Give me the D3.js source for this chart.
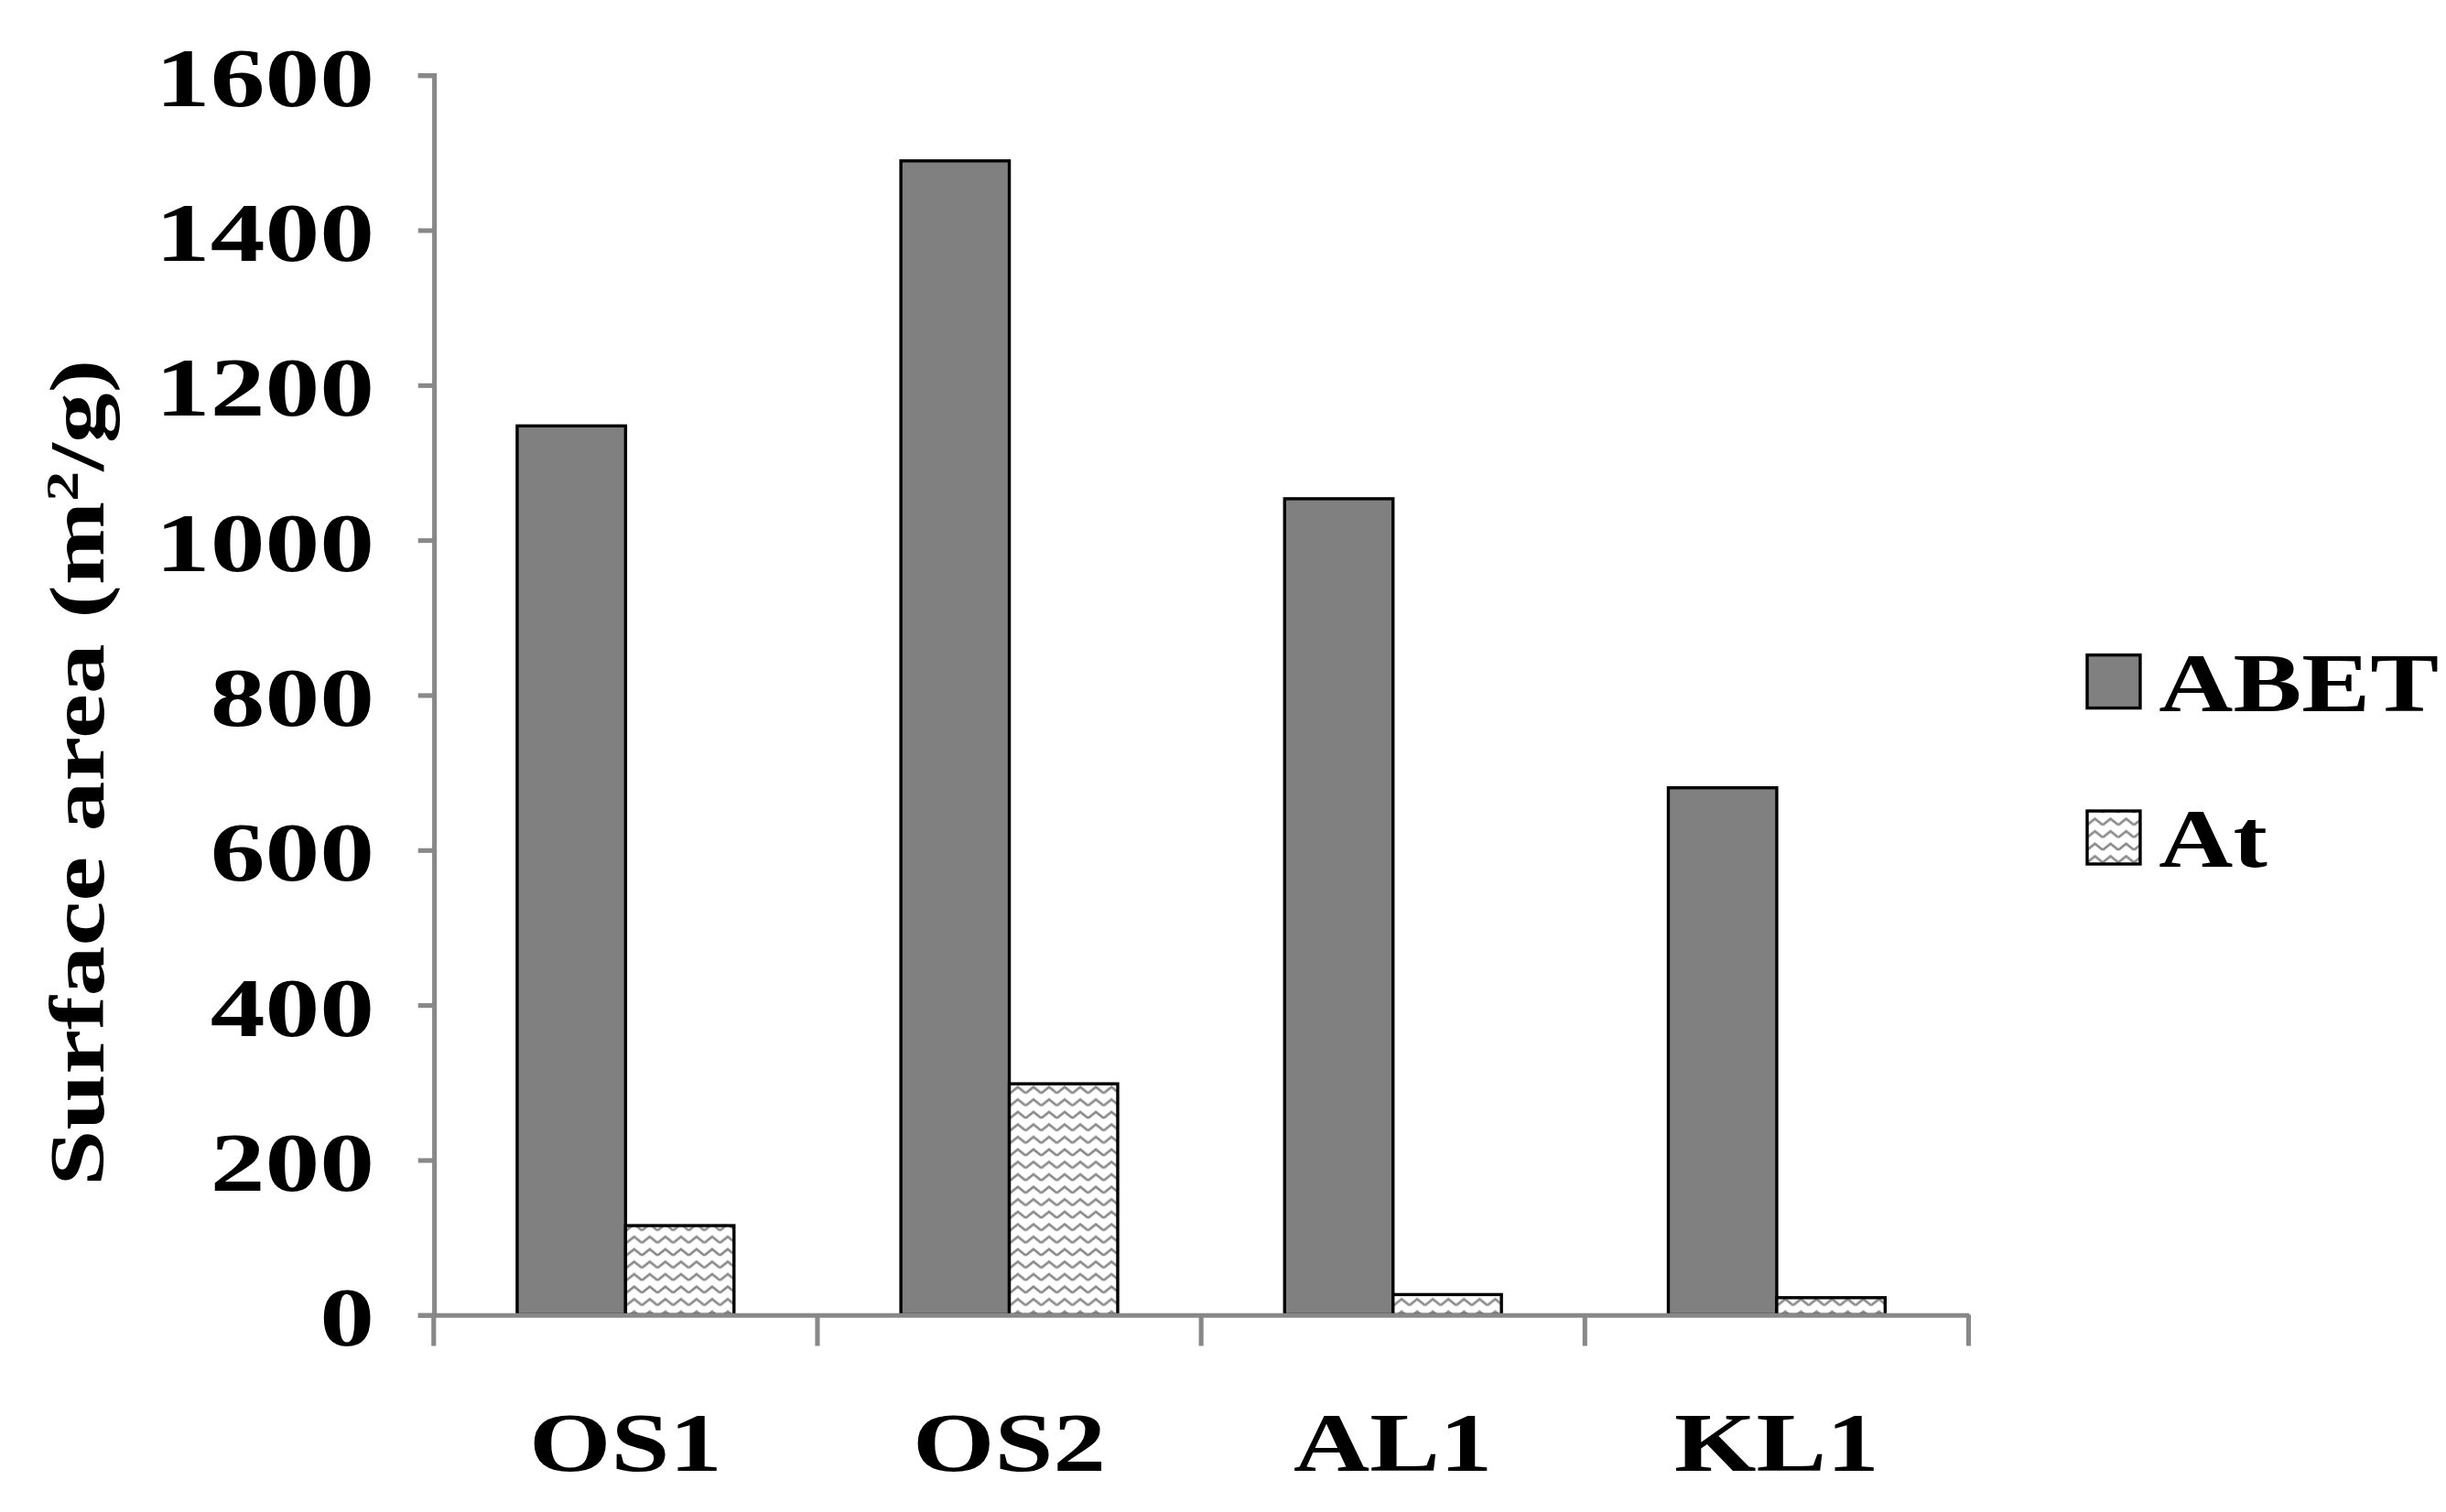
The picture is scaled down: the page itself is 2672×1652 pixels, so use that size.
<!DOCTYPE html>
<html lang="en">
<head>
  <meta charset="UTF-8" />
  <title>Surface area</title>
  <script src="https://cdn.jsdelivr.net/npm/d3@7"></script>
  <style>
    body { margin: 0; background: white; }
    svg { display: block; }
    text { font-family: "Liberation Serif", "Times New Roman", serif; font-weight: bold; fill: #000; }
  </style>
</head>
<body>
  <div id="chart"></div>
  <script>
    const categories = ["OS1", "OS2", "AL1", "KL1"];
    const seriesNames = ["ABET", "At"];
    const abet = [1147, 1489, 1053, 680];
    const at = [115, 298, 26, 22];
    const yTicks = [0, 200, 400, 600, 800, 1000, 1200, 1400, 1600];

    const W = 1568, H = 969.5;
    const svg = d3.select("#chart").append("svg")
      .attr("width", 2672).attr("height", 1652)
      .attr("viewBox", `0 0 ${W} ${H}`);

    // widen text like the stretched original
    function stretch(sel, k) {
      sel.each(function () {
        const len = this.getComputedTextLength();
        d3.select(this).attr("textLength", len * k).attr("lengthAdjust", "spacingAndGlyphs");
      });
    }

    const defs = svg.append("defs");
    const pat = defs.append("pattern").attr("id", "zig")
      .attr("patternUnits", "userSpaceOnUse").attr("width", 10).attr("height", 8);
    pat.append("rect").attr("width", 10).attr("height", 8).attr("fill", "white");
    pat.append("path").attr("d", "M0,5 L5,1 L10,5")
      .attr("fill", "none").attr("stroke", "#8a8a8a").attr("stroke-width", 1.6);

    const x0 = 278, x1 = 1262, yBase = 843, yTop = 48;
    const x = d3.scaleBand().domain(categories).range([x0, x1]).paddingInner(0).paddingOuter(0);
    const inner = 139 / 246;
    const y = d3.scaleLinear().domain([0, 1600]).range([yBase, yTop]);
    const xs = d3.scaleBand().domain(seriesNames).range([0, x.bandwidth() * inner]);
    const offset = (x.bandwidth() - x.bandwidth() * inner) / 2;

    const data = categories.map((c, i) => ({ c, vals: [abet[i], at[i]] }));
    const fills = ["#808080", "url(#zig)"];

    const groups = svg.append("g").selectAll("g").data(data).join("g")
      .attr("transform", d => `translate(${x(d.c) + offset},0)`);
    groups.selectAll("rect").data(d => d.vals.map((v, k) => ({ v, k })))
      .join("rect")
      .attr("x", d => xs(seriesNames[d.k]))
      .attr("width", xs.bandwidth())
      .attr("y", d => y(d.v))
      .attr("height", d => yBase - y(d.v))
      .attr("fill", d => fills[d.k])
      .attr("stroke", "#000").attr("stroke-width", 2);

    // y axis
    const yAxis = svg.append("g").attr("transform", `translate(${x0},0)`)
      .call(d3.axisLeft(y).tickValues(yTicks).tickFormat(d3.format("d")).tickSize(10).tickPadding(28));
    yAxis.select(".domain").attr("stroke", "#888").attr("stroke-width", 3);
    yAxis.selectAll(".tick line").attr("stroke", "#888").attr("stroke-width", 3);
    yAxis.selectAll(".tick text").style("font-size", "54px").attr("dy", "0.36em").call(stretch, 1.3);

    // x axis
    const xAxis = svg.append("g").attr("transform", `translate(0,${yBase})`)
      .call(d3.axisBottom(x).tickSize(0).tickPadding(62));
    xAxis.select(".domain").attr("stroke", "#888").attr("stroke-width", 3);
    xAxis.selectAll(".tick text").style("font-size", "54px").call(stretch, 1.25);
    xAxis.selectAll(".bound").data(d3.range(categories.length + 1)).join("line")
      .attr("x1", i => x0 + i * x.bandwidth()).attr("x2", i => x0 + i * x.bandwidth())
      .attr("y1", 0).attr("y2", 20).attr("stroke", "#888").attr("stroke-width", 3);

    // y title
    const title = svg.append("text")
      .attr("transform", `translate(66,${(yBase + yTop) / 2 + 50}) rotate(-90)`)
      .attr("text-anchor", "middle").style("font-size", "50px")
      .html('Surface area (m<tspan dy="-16" style="font-size:30px">2</tspan><tspan dy="16">/g)</tspan>');
    stretch(title, 530 / title.node().getComputedTextLength());

    // legend
    const lg = svg.append("g").attr("transform", "translate(1338,420)");
    seriesNames.forEach((n, k) => {
      lg.append("rect").attr("x", 0).attr("y", k * 100).attr("width", 34).attr("height", 34)
        .attr("fill", fills[k]).attr("stroke", "#000").attr("stroke-width", 2);
      lg.append("text").attr("x", 46).attr("y", k * 100 + 36).style("font-size", "54px").text(n)
        .call(stretch, 1.22);
    });
  </script>
</body>
</html>
